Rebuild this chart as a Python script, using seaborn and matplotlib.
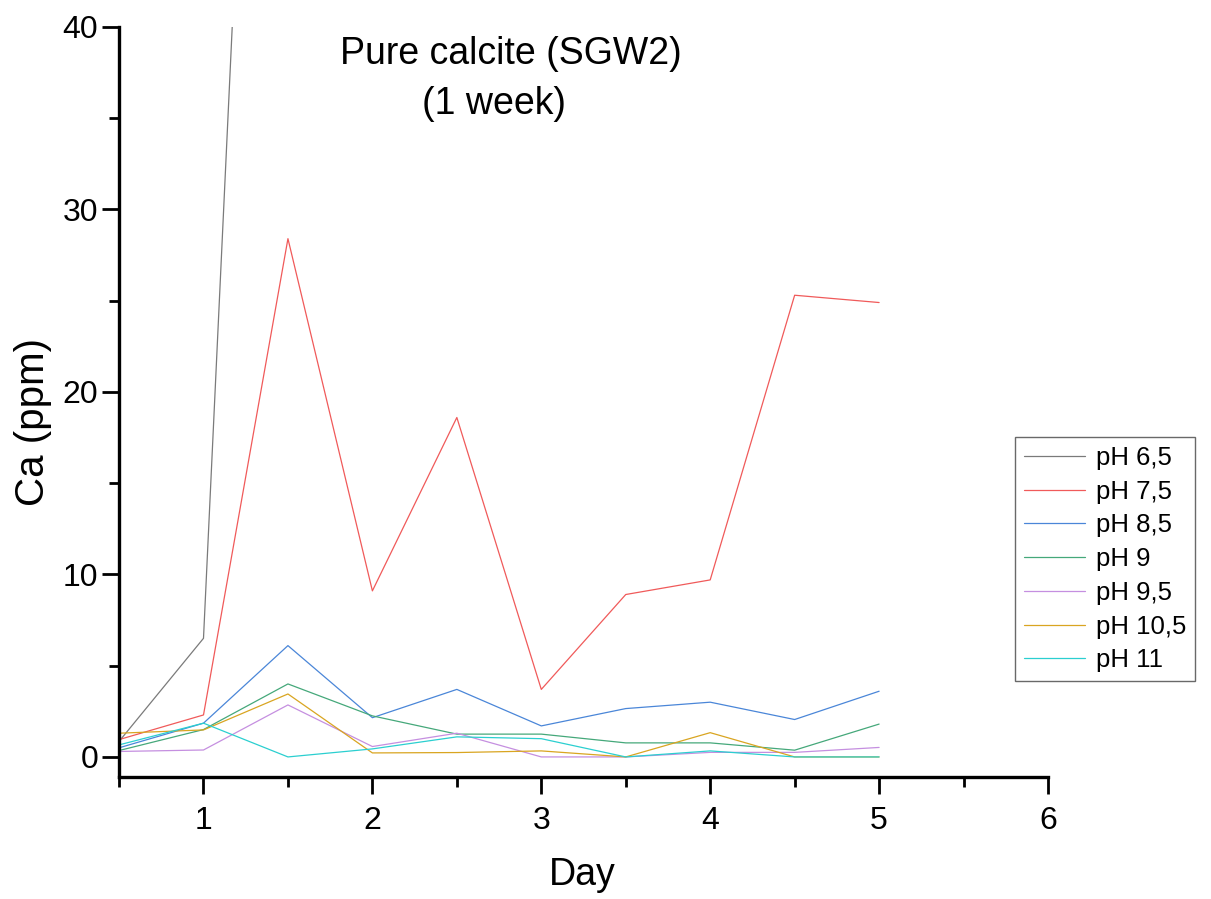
import numpy as np
import pandas as pd
import matplotlib
matplotlib.use('Agg')
import matplotlib.pyplot as plt
from matplotlib.ticker import MultipleLocator
import seaborn as sns

# days sampled
days = [0.5, 1, 1.5, 2, 2.5, 3, 3.5, 4, 4.5, 5]

# Ca (ppm) for each pH (pH 6,5 leaves the plot after day 1)
ph_6_5 = [0.85, 6.5, 105, np.nan, np.nan, np.nan, np.nan, np.nan, np.nan, np.nan]
ph_7_5 = [0.95, 2.3, 28.4, 9.1, 18.6, 3.7, 8.9, 9.7, 25.3, 24.9]
ph_8_5 = [0.5, 1.85, 6.1, 2.15, 3.7, 1.7, 2.65, 3.0, 2.05, 3.6]
ph_9 = [0.35, 1.5, 4.0, 2.25, 1.25, 1.25, 0.77, 0.77, 0.37, 1.8]
ph_9_5 = [0.3, 0.38, 2.85, 0.57, 1.3, 0.0, 0.0, 0.25, 0.25, 0.52]
ph_10_5 = [1.3, 1.48, 3.45, 0.22, 0.24, 0.33, 0.0, 1.33, 0.0, 0.0]
ph_11 = [0.66, 1.85, 0.0, 0.44, 1.1, 1.0, 0.0, 0.33, 0.0, 0.0]

labels = ['pH 6,5', 'pH 7,5', 'pH 8,5', 'pH 9', 'pH 9,5', 'pH 10,5', 'pH 11']
series = [ph_6_5, ph_7_5, ph_8_5, ph_9, ph_9_5, ph_10_5, ph_11]
colors = ['#7a7a7a', '#f05a5a', '#4a86d8', '#45a87a', '#c58fe0', '#d9a521', '#2bcfd0']

rows = []
for lab, vals in zip(labels, series):
    for d, v in zip(days, vals):
        rows.append({'Day': d, 'Ca': v, 'pH': lab})
df = pd.DataFrame(rows).dropna()

sns.set_style('ticks')
plt.rcParams['font.family'] = ['Liberation Sans', 'DejaVu Sans']
plt.rcParams['text.color'] = 'black'
plt.rcParams['xtick.color'] = 'black'
plt.rcParams['ytick.color'] = 'black'
plt.rcParams['axes.edgecolor'] = 'black'

fig = plt.figure(figsize=(12.11, 8.99), dpi=100)
ax = fig.add_axes([0.0983, 0.1357, 0.7671, 0.8343])

sns.lineplot(data=df, x='Day', y='Ca', hue='pH', hue_order=labels,
             palette=dict(zip(labels, colors)), linewidth=0.9,
             estimator=None, sort=True, ax=ax)

ax.set_xlim(0.5, 6)
ax.set_ylim(-1.1, 40)
ax.xaxis.set_major_locator(MultipleLocator(1))
ax.xaxis.set_minor_locator(MultipleLocator(0.5))
ax.yaxis.set_major_locator(MultipleLocator(10))
ax.yaxis.set_minor_locator(MultipleLocator(5))
ax.set_xticks([1, 2, 3, 4, 5, 6])
ax.tick_params(which='major', length=12, width=2, labelsize=23)
ax.tick_params(axis='x', which='major', pad=9)
ax.tick_params(axis='y', which='major', pad=3)
ax.tick_params(which='minor', length=7, width=2)
for s in ['top', 'right']:
    ax.spines[s].set_visible(False)
for s in ['left', 'bottom']:
    ax.spines[s].set_linewidth(2.4)

ax.set_xlabel('')
ax.set_ylabel('')
fig.text(0.481, 0.027, 'Day', fontsize=27, ha='center', va='center')
fig.text(0.027, 0.531, 'Ca (ppm)', fontsize=29, ha='center', va='center', rotation=90)
fig.text(0.422, 0.940, 'Pure calcite (SGW2)', fontsize=27, ha='center', va='center')
fig.text(0.408, 0.884, '(1 week)', fontsize=27, ha='center', va='center')

handles, labs = ax.get_legend_handles_labels()
ax.get_legend().remove()
leg = fig.legend(handles, labs, loc='upper left', bbox_to_anchor=(0.838, 0.514),
                 fontsize=18.5, frameon=True, fancybox=False, edgecolor='#444444',
                 handlelength=2.4, handletextpad=0.4, labelspacing=0.38,
                 borderpad=0.35, borderaxespad=0)
leg.get_frame().set_linewidth(1.0)

fig.savefig('out.png', dpi=100, facecolor='white')
